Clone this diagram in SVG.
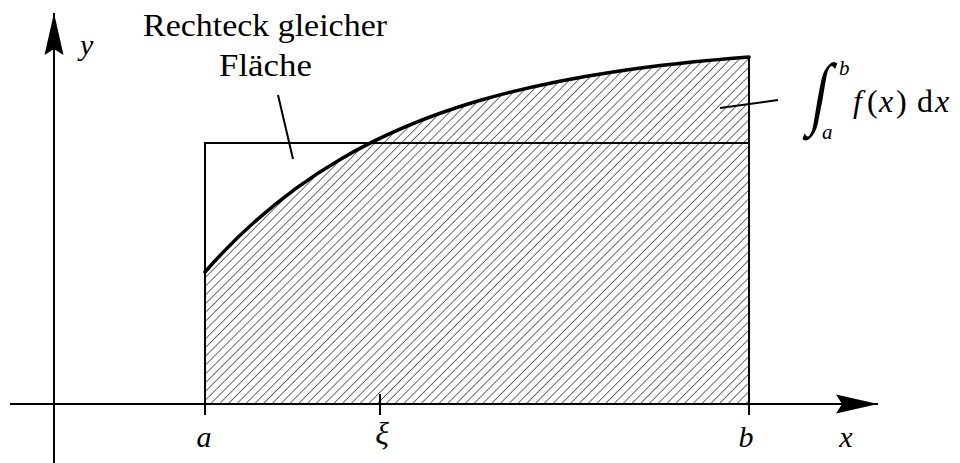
<svg xmlns="http://www.w3.org/2000/svg" width="960" height="463" viewBox="0 0 960 463">
<style>
.ln{stroke:#000;stroke-width:2;fill:none}
.curve{stroke:#000;stroke-width:3.5;fill:none;stroke-linejoin:round;stroke-linecap:round}
.t{font-family:"Liberation Serif","Times New Roman","DejaVu Serif",serif;fill:#000}
.m{font-family:"Liberation Serif","Times New Roman","DejaVu Serif",serif;font-style:italic;fill:#000}
</style>
<defs>
<pattern id="hatch" patternUnits="userSpaceOnUse" width="6.2" height="6.2" patternTransform="rotate(45)">
<line x1="0" y1="-1" x2="0" y2="7.2" stroke="#222" stroke-width="1.3"/>
</pattern>
<marker id="arr" markerUnits="userSpaceOnUse" markerWidth="50" markerHeight="24" refX="42" refY="10" orient="auto">
<path d="M42,10 L0,0.5 L6,10 L0,19.5 Z" fill="#000"/>
</marker>
</defs>
<g id="area">
<path d="M205,404 L205,272 C250.33,220.14 295.67,185.31 341,158.9 C386.33,132.49 431.67,114.74 477,101.3 C522.33,87.86 567.67,78.74 613,71.9 C658.33,65.06 703.67,60.49 749,57 L749,404 Z" fill="url(#hatch)" stroke="none"/>
</g>
<g id="connectors">
<line class="ln" x1="10" y1="404" x2="878" y2="404" marker-end="url(#arr)"/>
<line class="ln" x1="54" y1="463" x2="54" y2="13" marker-end="url(#arr)"/>
<line class="ln" x1="278" y1="95" x2="293" y2="159"/>
<line class="ln" x1="720" y1="108" x2="778" y2="100"/>
</g>
<g id="rectangle">
<polyline class="ln" points="205,415 205,143 749,143"/>
<line class="ln" x1="749" y1="57" x2="749" y2="415"/>
<line class="ln" x1="380" y1="394" x2="380" y2="415"/>
</g>
<g id="curve">
<path class="curve" d="M205,272 C250.33,220.14 295.67,185.31 341,158.9 C386.33,132.49 431.67,114.74 477,101.3 C522.33,87.86 567.67,78.74 613,71.9 C658.33,65.06 703.67,60.49 749,57"/>
</g>
<g id="label-rect">
<text class="t" x="143" y="36" font-size="31" textLength="244" lengthAdjust="spacingAndGlyphs">Rechteck gleicher</text>
<text class="t" x="219" y="76" font-size="31" textLength="93" lengthAdjust="spacingAndGlyphs">Fläche</text>
</g>
<g id="label-integral">
<text class="t" transform="translate(809,119) skewX(-10) scale(1.35,1.9)" font-size="42">∫</text>
<text class="m" x="839" y="75" font-size="21">b</text>
<text class="m" x="822" y="139" font-size="21">a</text>
<text class="m" x="853" y="112" font-size="32">f</text>
<text class="t" x="867" y="112" font-size="32">(</text>
<text class="m" x="879" y="112" font-size="32">x</text>
<text class="t" x="896" y="112" font-size="32">)</text>
<text class="t" x="917" y="112" font-size="32">d</text>
<text class="m" x="935" y="112" font-size="32">x</text>
</g>
<g id="axis-labels">
<text class="m" x="80" y="55" font-size="30">y</text>
<text class="m" x="204" y="447" font-size="30" text-anchor="middle">a</text>
<text class="m" x="382" y="444" font-size="32" text-anchor="middle">ξ</text>
<text class="m" x="746" y="447" font-size="30" text-anchor="middle">b</text>
<text class="m" x="846" y="447" font-size="30" text-anchor="middle">x</text>
</g>
</svg>
